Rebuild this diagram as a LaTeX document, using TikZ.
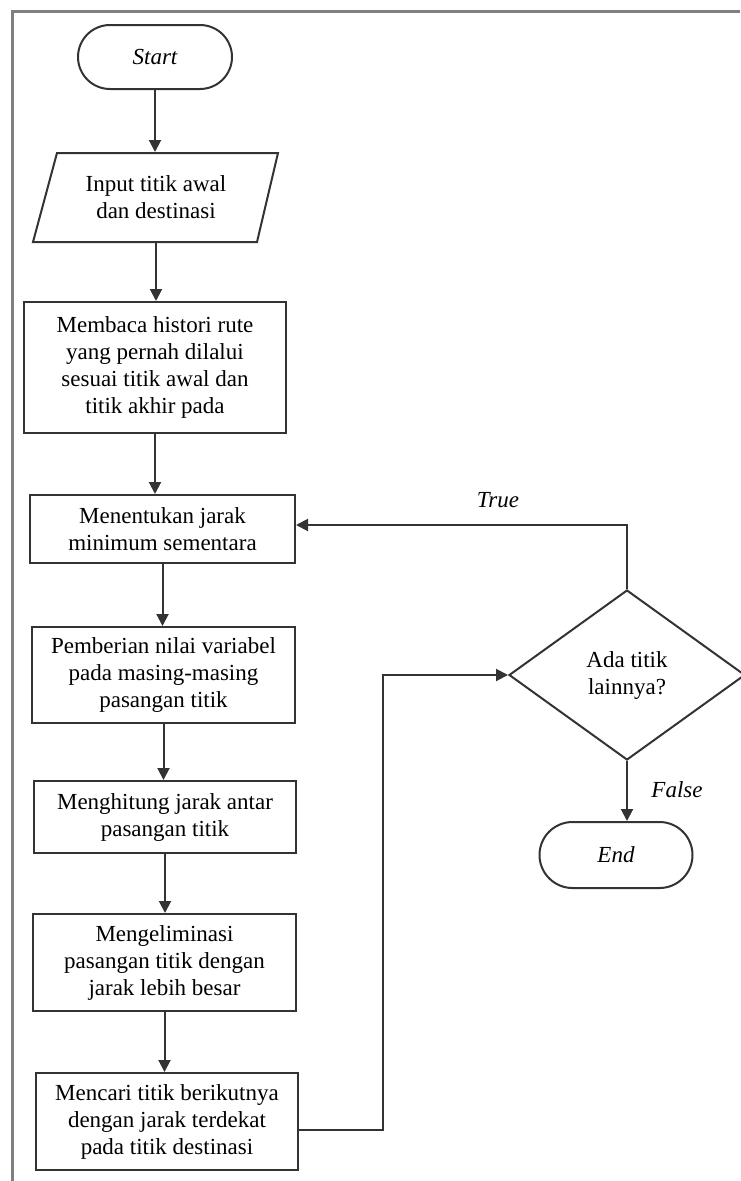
\documentclass[tikz,border=0pt]{standalone}
\usepackage{fontspec}
\setmainfont{Liberation Serif}
\usetikzlibrary{shapes.misc,shapes.geometric,arrows.meta}
\tikzset{
  x=1pt,y=-1pt,
  ln/.style={line width=2pt,draw=black!80},
  proc/.style={ln,rectangle,inner sep=0pt,align=center,font=\fontsize{23}{27}\selectfont},
  term/.style={ln,rounded rectangle,inner sep=0pt,font=\fontsize{23}{27}\selectfont\itshape},
  lbl/.style={font=\fontsize{23}{27}\selectfont\itshape,inner sep=0pt},
  arr/.style={ln,-{Triangle[width=12pt,length=12pt]}},
  frame/.style={line width=3pt,draw=black!50}
}
\begin{document}
\begin{tikzpicture}
\useasboundingbox (0,0) rectangle (740,1181);
\draw[frame] (12,1181) -- (12,11) -- (740,11);
\node[term,minimum width=154pt,minimum height=64pt] (start) at (155,57) {Start};
\draw[ln] (57,153) -- (278,153) -- (257,242) -- (33,242) -- cycle;
\node[proc,draw=none,minimum width=200pt,minimum height=89pt] (inp) at (156,197.5) {Input titik awal\\dan destinasi};
\node[proc,minimum width=262pt,minimum height=131pt] (baca) at (155,367.5) {Membaca histori rute\\yang pernah dilalui\\sesuai titik awal dan\\titik akhir pada};
\node[proc,minimum width=265pt,minimum height=68pt] (tentu) at (162.5,529) {Menentukan jarak\\minimum sementara};
\node[proc,minimum width=263pt,minimum height=96pt] (beri) at (163.5,675) {Pemberian nilai variabel\\pada masing-masing\\pasangan titik};
\node[proc,minimum width=262pt,minimum height=72pt] (hitung) at (165,817) {Menghitung jarak antar\\pasangan titik};
\node[proc,minimum width=263pt,minimum height=97pt] (elim) at (164.5,962.5) {Mengeliminasi\\pasangan titik dengan\\jarak lebih besar};
\node[proc,minimum width=262pt,minimum height=97pt] (cari) at (167,1121.5) {Mencari titik berikutnya\\dengan jarak terdekat\\pada titik destinasi};
\node[ln,diamond,inner sep=0pt,align=center,minimum width=236pt,minimum height=170pt,font=\fontsize{23}{27}\selectfont] (ada) at (627,675) {Ada titik\\lainnya?};
\node[term,minimum width=153pt,minimum height=66pt] (end) at (616,855) {End};
\coordinate (c1) at (383,1130);
\coordinate (c2) at (627,525);
\draw[arr] (start.south) -- (start.south |- inp.north);
\draw[arr] (inp.south) -- (inp.south |- baca.north);
\draw[arr] (baca.south) -- (baca.south |- tentu.north);
\draw[arr] (tentu.south) -- (tentu.south |- beri.north);
\draw[arr] (beri.south) -- (beri.south |- hitung.north);
\draw[arr] (hitung.south) -- (hitung.south |- elim.north);
\draw[arr] (elim.south) -- (elim.south |- cari.north);
\draw[arr] (cari.east |- c1) -- (c1) |- (ada.west);
\draw[arr] (ada.north) -- (c2) -- (tentu.east |- c2);
\draw[arr] (ada.south) -- (ada.south |- end.north);
\node[lbl] (true) at (498,500) {True};
\node[lbl] (false) at (677,790) {False};
\end{tikzpicture}
\end{document}
